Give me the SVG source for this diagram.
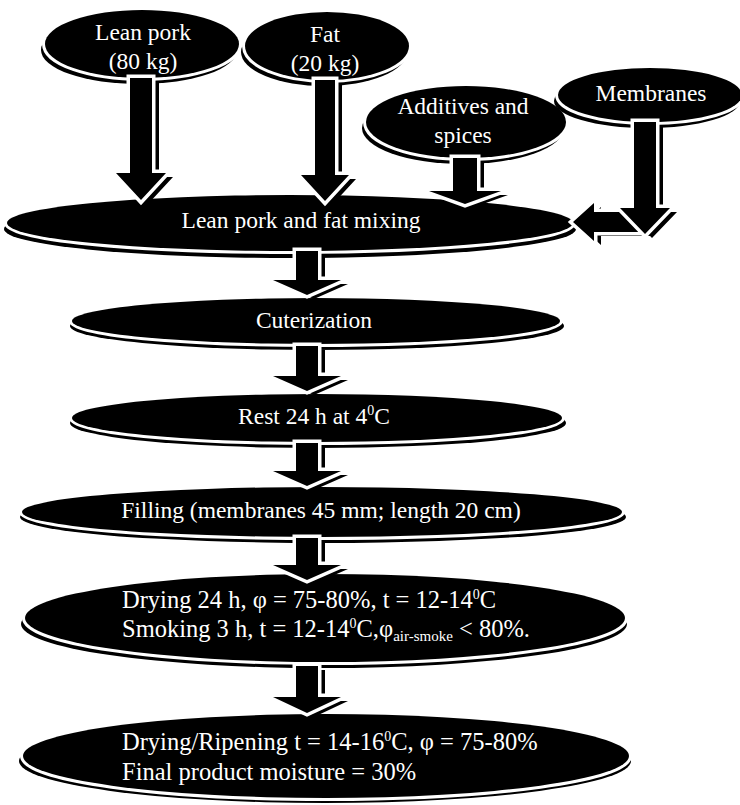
<svg xmlns="http://www.w3.org/2000/svg" width="740" height="805" viewBox="0 0 740 805">
<style>
.bg{fill:#fff}
.sh{fill:#000}
.el{fill:#000;stroke:#fff;stroke-width:6;paint-order:stroke}
.ar{fill:#000;stroke:#fff;stroke-width:7;stroke-linejoin:miter;paint-order:stroke}
.t{font-family:"Liberation Serif","Times New Roman",serif;font-size:23.5px;fill:#fff;text-anchor:middle}
.tl{text-anchor:start;font-size:24.5px}
.sup{font-size:14px}
.sub{font-size:15px}
</style>
<rect class="bg" x="0" y="0" width="740" height="805"/>

<g id="lean-pork">
<ellipse class="sh" cx="139" cy="50" rx="98" ry="34"/>
<ellipse class="el" cx="142" cy="44" rx="97" ry="34"/>
<text class="t" x="143" y="40">Lean pork</text>
<text class="t" x="143" y="69">(80 kg)</text>
</g>

<g id="fat">
<ellipse class="sh" cx="324" cy="52" rx="83" ry="34"/>
<ellipse class="el" cx="327" cy="46" rx="82" ry="34"/>
<text class="t" x="325" y="42">Fat</text>
<text class="t" x="325" y="71">(20 kg)</text>
</g>

<g id="additives">
<ellipse class="sh" cx="463" cy="128" rx="101" ry="36"/>
<ellipse class="el" cx="466" cy="122" rx="100" ry="36"/>
<text class="t" x="463" y="114">Additives and</text>
<text class="t" x="463" y="143">spices</text>
</g>

<g id="membranes">
<ellipse class="sh" cx="647" cy="101" rx="93" ry="27"/>
<ellipse class="el" cx="650" cy="95" rx="92" ry="27"/>
<text class="t" x="651" y="101">Membranes</text>
</g>

<g id="mixing">
<ellipse class="sh" cx="290" cy="229" rx="286" ry="29"/>
<ellipse class="el" cx="290" cy="223" rx="283" ry="28"/>
<text class="t" x="301" y="228">Lean pork and fat mixing</text>
</g>

<g id="cuterization">
<ellipse class="sh" cx="317" cy="326" rx="247" ry="24"/>
<ellipse class="el" cx="316" cy="321" rx="244" ry="23"/>
<text class="t" x="314" y="328">Cuterization</text>
</g>

<g id="rest">
<ellipse class="sh" cx="318" cy="423" rx="248" ry="25"/>
<ellipse class="el" cx="317" cy="418" rx="245" ry="24"/>
<text class="t" x="314" y="424">Rest 24 h at 4<tspan class="sup" dy="-9">0</tspan><tspan dy="9">C</tspan></text>
</g>

<g id="filling">
<ellipse class="sh" cx="323" cy="517" rx="303" ry="26"/>
<ellipse class="el" cx="322" cy="512" rx="300" ry="25"/>
<text class="t" x="321" y="518">Filling (membranes 45 mm; length 20 cm)</text>
</g>

<g id="drying-smoking">
<ellipse class="sh" cx="324" cy="624" rx="303" ry="44"/>
<ellipse class="el" cx="325" cy="618" rx="300" ry="44"/>
<text class="t tl" x="122" y="608">Drying 24 h, φ = 75-80%, t = 12-14<tspan class="sup" dy="-9">0</tspan><tspan dy="9">C</tspan></text>
<text class="t tl" x="122" y="637">Smoking 3 h, t = 12-14<tspan class="sup" dy="-9">0</tspan><tspan dy="9">C,φ</tspan><tspan class="sub" dy="4">air-smoke</tspan><tspan dy="-4"> &lt; 80%.</tspan></text>
</g>

<g id="drying-ripening">
<ellipse class="sh" cx="325" cy="761" rx="306" ry="42"/>
<ellipse class="el" cx="326" cy="756" rx="303" ry="42"/>
<text class="t tl" x="122" y="750">Drying/Ripening t = 14-16<tspan class="sup" dy="-9">0</tspan><tspan dy="9">C, φ = 75-80%</tspan></text>
<text class="t tl" x="122" y="780">Final product moisture = 30%</text>
</g>

<g id="connectors">
<g transform="translate(7,4)" class="sh">
<polygon points="130,78 152,78 152,173 166,173 141,200 116,173 130,173"/>
<polygon points="315,80 335,80 335,175 349,175 325,201 301,175 315,175"/>
<polygon points="453,158 477,158 477,191 501,191 465,204 429,191 453,191"/>
<polygon points="645,212 645,232 594,232 594,241 573,222 594,203 594,212"/>
<polygon points="634,122 656,122 656,208 670,208 645,234 620,208 634,208"/>
<polygon points="296,251 318,251 318,280 341,280 307,295 273,280 296,280"/>
<polygon points="296,346 318,346 318,376 341,376 307,391 273,376 296,376"/>
<polygon points="296,443 318,443 318,471 341,471 307,486 273,471 296,471"/>
<polygon points="296,538 318,538 318,565 341,565 307,580 273,565 296,565"/>
<polygon points="296,666 318,666 318,697 341,697 307,713 273,697 296,697"/>
</g>
<polygon class="ar" points="130,78 152,78 152,173 166,173 141,200 116,173 130,173"/>
<polygon class="ar" points="315,80 335,80 335,175 349,175 325,201 301,175 315,175"/>
<polygon class="ar" points="453,158 477,158 477,191 501,191 465,204 429,191 453,191"/>
<polygon class="ar" points="645,212 645,232 594,232 594,241 573,222 594,203 594,212"/>
<polygon class="ar" points="634,122 656,122 656,208 670,208 645,234 620,208 634,208"/>
<polygon class="ar" points="296,251 318,251 318,280 341,280 307,295 273,280 296,280"/>
<polygon class="ar" points="296,346 318,346 318,376 341,376 307,391 273,376 296,376"/>
<polygon class="ar" points="296,443 318,443 318,471 341,471 307,486 273,471 296,471"/>
<polygon class="ar" points="296,538 318,538 318,565 341,565 307,580 273,565 296,565"/>
<polygon class="ar" points="296,666 318,666 318,697 341,697 307,713 273,697 296,697"/>
</g>
</svg>
